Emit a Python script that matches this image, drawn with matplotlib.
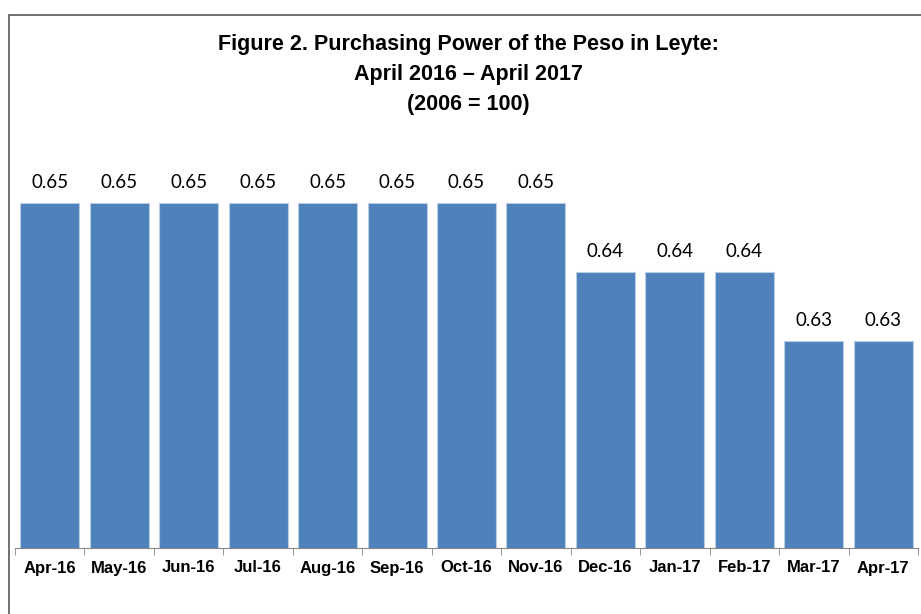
import numpy as np
import matplotlib.pyplot as plt
from matplotlib.patches import Rectangle
from matplotlib import font_manager

months = ['Apr-16', 'May-16', 'Jun-16', 'Jul-16', 'Aug-16', 'Sep-16', 'Oct-16',
          'Nov-16', 'Dec-16', 'Jan-17', 'Feb-17', 'Mar-17', 'Apr-17']
ppp = [0.65, 0.65, 0.65, 0.65, 0.65, 0.65, 0.65, 0.65, 0.64, 0.64, 0.64, 0.63, 0.63]

title_lines = ['Figure 2. Purchasing Power of the Peso in Leyte:',
               'April 2016 \u2013 April 2017',
               '(2006 = 100)']

# use a narrow sans if one happens to be installed
names = {f.name for f in font_manager.fontManager.ttflist}
narrow = 'Liberation Sans Narrow' in names
head_font = ['Liberation Sans Narrow'] if narrow else ['Liberation Sans']

W, H = 921, 614
fig = plt.figure(figsize=(W / 100, H / 100), dpi=100)

# outer chart frame (cut off at right and bottom like the source)
fig.patches.append(Rectangle((9 / W, -0.1), 1.2, (H - 15) / H + 0.1,
                             transform=fig.transFigure, fill=False,
                             edgecolor='#595959', linewidth=1.2))

ax = fig.add_axes([15 / W, 66 / H, 903 / W, 414 / H])
x = np.arange(len(months))
ax.bar(x, ppp, width=0.85, color='#4F81BD', edgecolor='#B9CDE5', linewidth=0.8)
ax.set_xlim(-0.5, len(months) - 0.5)
ax.set_ylim(0.60, 0.66)

for s in ['top', 'right', 'left']:
    ax.spines[s].set_visible(False)
ax.spines['bottom'].set_color('#868686')
ax.set_yticks([])
ax.set_xticks(x)
ax.set_xticklabels(months, fontsize=12 if not narrow else 13.5, fontweight='bold',
                   family=head_font)
ax.tick_params(axis='x', length=0, pad=9)
ax.set_xticks(np.arange(len(months) + 1) - 0.5, minor=True)
ax.tick_params(axis='x', which='minor', length=5, color='#868686')

for xi, v in zip(x, ppp):
    ax.annotate(f'{v:.2f}', (xi, v), xytext=(0, 10.8), textcoords='offset points',
                ha='center', va='baseline', fontsize=13.5, family='Lato')

tsize = 15.5 if not narrow else 17
for i, line in enumerate(title_lines):
    fig.text(468 / W, 1 - (50 + 30 * i) / H, line, ha='center', va='baseline',
             fontsize=tsize, fontweight='bold', family=head_font)

fig.savefig('out.png', dpi=100)
